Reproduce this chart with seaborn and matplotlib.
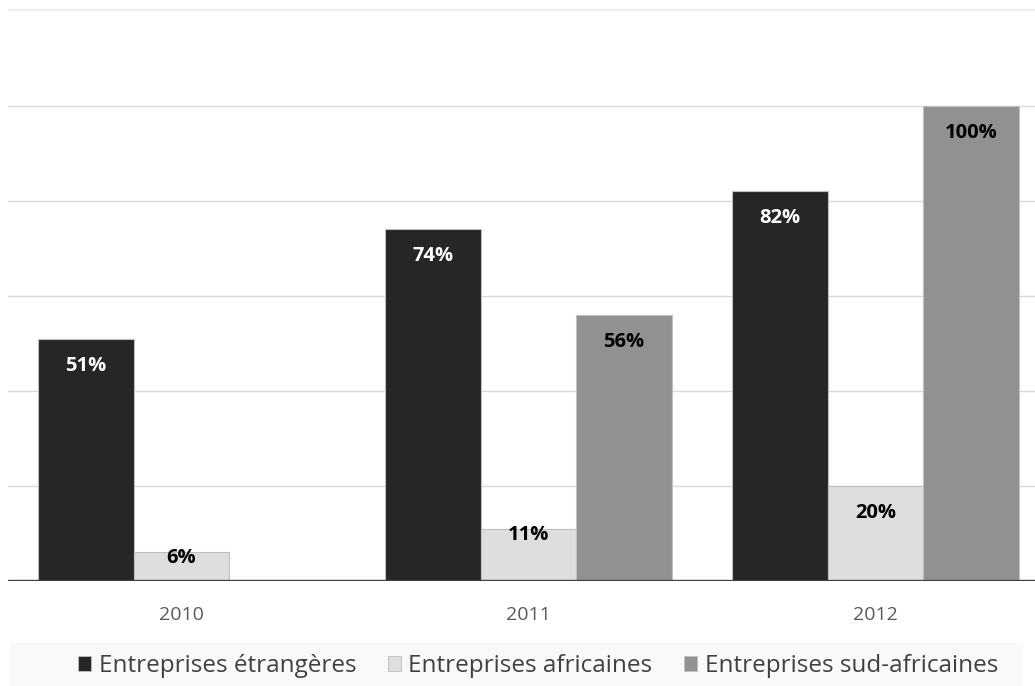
import matplotlib
matplotlib.use("Agg")
import matplotlib.pyplot as plt
import matplotlib.patches as mpatches
import seaborn as sns
import pandas as pd
import numpy as np

years = ["2010", "2011", "2012"]
series = ["Entreprises étrangères", "Entreprises africaines", "Entreprises sud-africaines"]
etrangeres = [51, 74, 82]
africaines = [6, 11, 20]
sud_africaines = [np.nan, 56, 100]
colors = ["#262626", "#dedede", "#919191"]
label_colors = ["white", "black", "black"]

rows = []
for s, vals in zip(series, [etrangeres, africaines, sud_africaines]):
    for y, v in zip(years, vals):
        rows.append({"year": y, "series": s, "value": v})
df = pd.DataFrame(rows)

sns.set_theme(style="white")
plt.rcParams["font.family"] = ["Open Sans", "DejaVu Sans"]

W, H = 1035, 686
fig = plt.figure(figsize=(W / 100, H / 100), dpi=100)
ax = fig.add_axes([8 / W, (H - 581) / H, 1 - 8 / W, (581 - 9) / H])

# legend band background
fig.patches.append(mpatches.Rectangle((10 / W, 0), (1023 - 10) / W, (H - 643) / H,
                                      transform=fig.transFigure, facecolor="#f9f9f9",
                                      edgecolor="none", zorder=0))

sns.barplot(data=df, x="year", y="value", hue="series", palette=colors,
            width=0.825, gap=0, ax=ax, legend=False, saturation=1,
            edgecolor="#bfbfbf", linewidth=0.8, zorder=3)

ax.set_xlim(-0.5, 2.46)
ax.set_ylim(0, 120.3)
for yv in [20, 40, 60, 80, 100]:
    ax.axhline(yv, color="#d9d9d9", lw=1, zorder=1)
ax.axhline(120, color="#f0f0f0", lw=1.5, zorder=1)
ax.axhline(0, color="#404040", lw=2.4, zorder=5)

for sp in ax.spines.values():
    sp.set_visible(False)
ax.set_yticks([])
ax.set_xlabel("")
ax.set_ylabel("")
ax.tick_params(axis="x", length=0, pad=18, labelsize=14, labelcolor="#595959")

# value labels
px_per_unit = (581 - 9) / 120.3
for container, lc in zip(ax.containers, label_colors):
    for bar in container:
        h = bar.get_height()
        if not np.isfinite(h) or h <= 0:
            continue
        hpx = h * px_per_unit
        off = 27 if hpx > 60 else 6
        ax.annotate(f"{int(round(h))}%", (bar.get_x() + bar.get_width() / 2, h),
                    xytext=(0, -off * 0.72), textcoords="offset points",
                    ha="center", va="center", fontsize=14.5, fontweight="bold",
                    color=lc, zorder=6)

handles = [mpatches.Patch(facecolor=c, edgecolor="#bfbfbf", linewidth=0.6) for c in colors]
fig.legend(handles, series, loc="center", bbox_to_anchor=(538 / W, (H - 666) / H),
           ncol=3, frameon=False, fontsize=17.5, handlelength=0.55, handleheight=0.55,
           handletextpad=0.3, columnspacing=1.3, labelcolor="#404040")

fig.savefig("out.png", dpi=100)
